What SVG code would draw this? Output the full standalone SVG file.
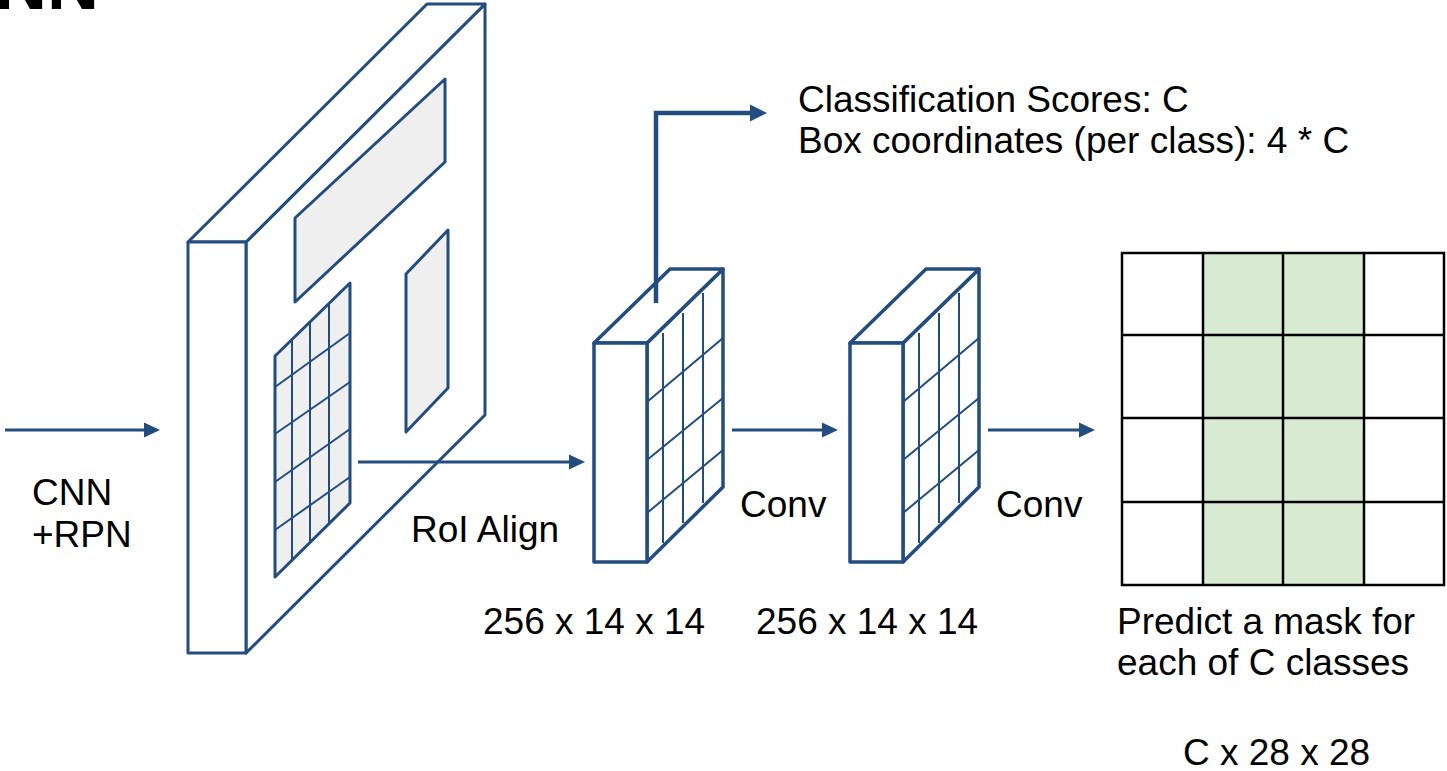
<svg xmlns="http://www.w3.org/2000/svg" width="1447" height="771" viewBox="0 0 1447 771">
<defs>
<style>
.b{stroke:#234c7f;stroke-width:3;fill:#fff;stroke-linejoin:round}
.s{stroke:#234c7f;stroke-width:3.5;fill:#fff;stroke-linejoin:round}
.g{stroke:#234c7f;stroke-width:3;fill:#efefef;stroke-linejoin:round}
.gl{stroke:#234c7f;stroke-width:2;fill:none}
.c{stroke:#234c7f;stroke-width:3;fill:none}
.ct{stroke:#234c7f;stroke-width:4.5;fill:none}
.m{stroke:#000;stroke-width:2.5;fill:none}
text{font-family:"Liberation Sans",Arial,sans-serif;font-size:37px;fill:#000}
</style>
<marker id="ah" markerUnits="userSpaceOnUse" markerWidth="20" markerHeight="20" viewBox="0 -10 20 20" refX="2" refY="0" orient="auto">
<path d="M0,-7.5 L16,0 L0,7.5 z" fill="#234c7f"/>
</marker>
<marker id="ah2" markerUnits="userSpaceOnUse" markerWidth="22" markerHeight="22" viewBox="0 -11 22 22" refX="2" refY="0" orient="auto">
<path d="M0,-8.5 L17,0 L0,8.5 z" fill="#234c7f"/>
</marker>
</defs>

<text x="-5" y="9" style="font-size:72px;font-weight:bold">NN</text>

<g id="feature-map">
<polygon class="b" points="246,242 485,4 485,415 246,653"/>
<polygon class="b" points="188,242 427,4 485,4 246,242"/>
<rect class="b" x="188" y="242" width="58" height="411"/>
<polygon class="g" points="295,218 445,79 445,162 295,302"/>
<polygon class="g" points="406,274 448,230 448,388 406,432"/>
<polygon class="g" points="275,356 350,283 350,503 275,577"/>
<path class="gl" d="M292,339.5V560 M310,322V542.5 M329,303.5V524 M275,387L350,333 M275,434L350,382 M275,482L350,429 M275,530L350,477"/>
</g>

<g id="roi-features">
<polygon class="s" points="647,343 723,269 723,487 647,562"/>
<polygon class="s" points="594,343 670,269 723,269 647,343"/>
<rect class="s" x="594" y="343" width="53" height="219"/>
<path class="gl" d="M663,333V543 M683,313V523 M703,293V503 M647,402L723,338 M647,460L723,398 M647,513L723,450"/>
</g>

<g id="conv-features">
<polygon class="s" points="903,343 979,269 979,487 903,562"/>
<polygon class="s" points="850,343 926,269 979,269 903,343"/>
<rect class="s" x="850" y="343" width="53" height="219"/>
<path class="gl" d="M919,333V543 M939,313V523 M959,293V503 M903,402L979,338 M903,460L979,398 M903,513L979,450"/>
</g>

<g id="mask">
<rect x="1122" y="253" width="322" height="332" fill="#fff"/>
<rect x="1203" y="253" width="161" height="332" fill="#d9ead3"/>
<rect class="m" x="1122" y="253" width="322" height="332"/>
<path class="m" d="M1203,253V585 M1283,253V585 M1364,253V585 M1122,335H1444 M1122,418H1444 M1122,502H1444"/>
</g>

<g id="connectors">
<line class="c" x1="5" y1="430" x2="146" y2="430" marker-end="url(#ah)"/>
<line class="c" x1="358" y1="462" x2="571" y2="462" marker-end="url(#ah)"/>
<line class="c" x1="732" y1="430" x2="824" y2="430" marker-end="url(#ah)"/>
<line class="c" x1="988" y1="430" x2="1081" y2="430" marker-end="url(#ah)"/>
<path class="ct" d="M656,303V113H752" marker-end="url(#ah2)"/>
</g>

<g id="labels">
<text x="798" y="112">Classification Scores: C</text>
<text x="798" y="153">Box coordinates (per class): 4 * C</text>
<text x="32" y="505">CNN</text>
<text x="32" y="547">+RPN</text>
<text x="411" y="542">RoI Align</text>
<text x="740" y="517">Conv</text>
<text x="996" y="517">Conv</text>
<text x="483" y="634">256 x 14 x 14</text>
<text x="756" y="634">256 x 14 x 14</text>
<text x="1117" y="634">Predict a mask for</text>
<text x="1117" y="675">each of C classes</text>
<text x="1183" y="765">C x 28 x 28</text>
</g>
</svg>
